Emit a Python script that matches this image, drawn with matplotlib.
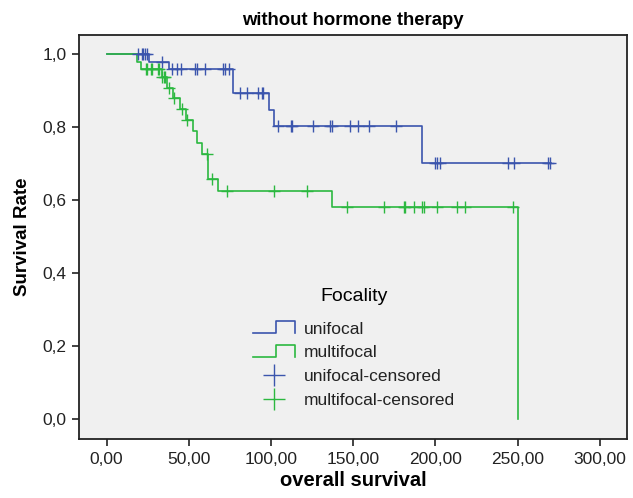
import numpy as np
import matplotlib
matplotlib.use("Agg")
import matplotlib.pyplot as plt
from matplotlib.lines import Line2D
from matplotlib.legend_handler import HandlerBase

plt.rcParams['font.family'] = ['Liberation Sans', 'DejaVu Sans']

# event times / survival levels (step functions)
uni_times = [0, 25.9, 37.9, 76.8, 98.7, 101.8, 191.8, 270.0]
uni_surv = [1.0, 0.980, 0.959, 0.893, 0.847, 0.803, 0.703, 0.703]
multi_times = [0, 18.6, 20.7, 33.5, 36.5, 40.5, 44.6, 48.1, 52.7, 54.7,
               57.8, 61.8, 67.9, 136.9, 250.0]
multi_surv = [1.0, 0.978, 0.959, 0.937, 0.908, 0.879, 0.850, 0.820, 0.789,
              0.756, 0.726, 0.658, 0.625, 0.582, 0.0]

# censored times
uni_cens = [19.1, 21.3, 22.1, 23.3, 24.4, 33.4,
            39.5, 42.9, 45.0, 53.7, 54.8, 59.8, 70.6, 72.0, 74.5,
            81.1, 85.2, 92.3, 94.3, 95.3,
            104.4, 112.2, 113.0, 125.7, 135.8, 136.9, 148.0, 153.1, 159.8, 176.0,
            199.7, 200.8, 202.8, 244.0, 248.0, 268.6, 269.6]
multi_cens = [23.9, 24.7, 26.7, 27.3, 31.0, 31.8, 33.9, 34.6, 35.4,
              37.9, 40.8, 45.6, 48.7, 60.8, 63.9,
              73.0, 102.0, 121.6,
              146.0, 168.8, 180.9, 181.7, 186.9, 192.0, 193.0, 200.8, 213.0, 218.0, 247.0]

xticks = [0, 50, 100, 150, 200, 250, 300]
yticks = [0.0, 0.2, 0.4, 0.6, 0.8, 1.0]

blue = '#3b55ad'
green = '#2cb840'


def level_at(times, surv, t):
    idx = np.searchsorted(times, t, side='right') - 1
    return np.asarray(surv)[idx]


class StepHandler(HandlerBase):
    def create_artists(self, legend, orig_handle, xdescent, ydescent,
                       width, height, fontsize, trans):
        x = np.array([0, 0.55, 0.55, 1.0, 1.0]) * width - xdescent
        y = np.array([0.05, 0.05, 1.0, 1.0, 0.05]) * height - ydescent
        line = Line2D(x, y, color=orig_handle.get_color(), lw=1.2)
        line.set_transform(trans)
        return [line]


fig = plt.figure(figsize=(6.33, 4.98), dpi=100)
ax = fig.add_axes([0.1248, 0.1179, 0.8657, 0.8118])
ax.set_facecolor('#f0f0f0')

l_uni, = ax.step(uni_times, uni_surv, where='post', color=blue, lw=1.2)
l_multi, = ax.step(multi_times, multi_surv, where='post', color=green, lw=1.2)
c_uni, = ax.plot(uni_cens, level_at(uni_times, uni_surv, uni_cens), '+',
                 color=blue, ms=8, mew=1.0, ls='none')
c_multi, = ax.plot(multi_cens, level_at(multi_times, multi_surv, multi_cens), '+',
                   color=green, ms=8, mew=1.0, ls='none')

ax.set_xlim(-16.8, 316.5)
ax.set_ylim(-0.056, 1.053)
ax.set_xticks(xticks)
ax.set_xticklabels([f"{v:.2f}".replace('.', ',') for v in xticks])
ax.set_yticks(yticks)
ax.set_yticklabels([f"{v:.1f}".replace('.', ',') for v in yticks])
ax.tick_params(direction='out', length=5, width=1.2, labelsize=12.5,
               colors='#222222', pad=4)
for s in ax.spines.values():
    s.set_linewidth(1.3)
    s.set_color('#222222')

ax.set_title('without hormone therapy', fontsize=13.3, fontweight='bold', pad=7)
ax.set_xlabel('overall survival', fontsize=14.5, fontweight='bold', labelpad=3)
ax.set_ylabel('Survival Rate', fontsize=13.5, fontweight='bold', labelpad=8)

leg = ax.legend([l_uni, l_multi, c_uni, c_multi],
                ['unifocal', 'multifocal', 'unifocal-censored', 'multifocal-censored'],
                handler_map={l_uni: StepHandler(), l_multi: StepHandler()},
                title='Focality', title_fontsize=14, fontsize=12.5, frameon=False,
                loc='center', bbox_to_anchor=(0.502, 0.226), markerscale=1.9,
                handlelength=2.4, handletextpad=0.5, labelspacing=0.5,
                borderpad=0)
leg._legend_box.sep = 12
for t in leg.get_texts():
    t.set_color('#222222')

fig.savefig('out.png', dpi=100)
